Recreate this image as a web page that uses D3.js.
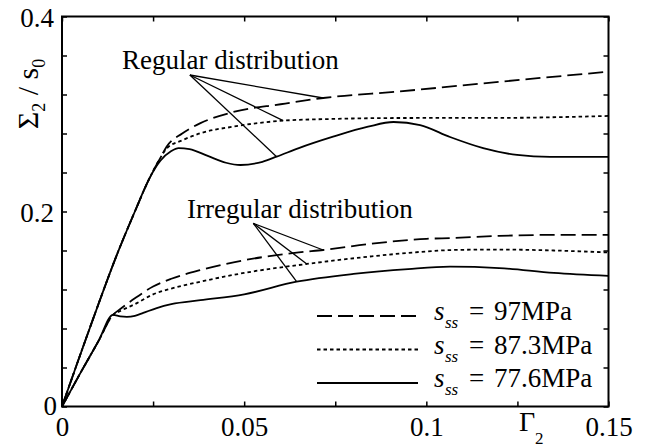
<!DOCTYPE html>
<html>
<head>
<meta charset="utf-8">
<script src="https://cdn.jsdelivr.net/npm/d3@7/dist/d3.min.js"></script>
<style>
	body { margin: 0; background: #fff; }
	text { font-family: "Liberation Serif", Tinos, "Times New Roman", Times, "DejaVu Serif", serif; fill: #000; }
</style>
</head>
<body>
<script>
//tick values
var xTicks = [0, 0.025, 0.05, 0.075, 0.1, 0.125, 0.15];
var xLabels = [0, 0.05, 0.1, 0.15];
var yTicks = [0, 0.04, 0.08, 0.12, 0.16, 0.2, 0.24, 0.28, 0.32, 0.36, 0.4];
var yLabels = [0, 0.2, 0.4];

//regular distribution [gamma, sigma/s0]
var regular97 = [[0,0],[0.005,0.053],[0.01,0.105],[0.015,0.155],[0.02,0.2],[0.024,0.234],[0.027,0.255],[0.0287,0.2665],[0.033,0.28],[0.038,0.2906],[0.047,0.302],[0.06,0.31],[0.0717,0.3164],[0.0928,0.3232],[0.12,0.333],[0.15,0.3434]];
var regular873 = [[0,0],[0.005,0.053],[0.01,0.105],[0.015,0.155],[0.02,0.2],[0.024,0.234],[0.027,0.255],[0.0287,0.2645],[0.033,0.273],[0.038,0.2803],[0.047,0.287],[0.0608,0.2932],[0.075,0.295],[0.0928,0.2959],[0.12,0.296],[0.15,0.298]];
var regular776 = [[0,0],[0.005,0.053],[0.01,0.105],[0.015,0.155],[0.02,0.2],[0.024,0.234],[0.027,0.252],[0.03,0.262],[0.032,0.265],[0.035,0.264],[0.04,0.257],[0.045,0.25],[0.049,0.2477],[0.055,0.251],[0.0589,0.2562],[0.065,0.265],[0.0744,0.2767],[0.084,0.287],[0.091,0.2918],[0.0983,0.2887],[0.1065,0.2764],[0.1156,0.265],[0.1249,0.258],[0.134,0.256],[0.15,0.256]];

//irregular distribution
var irregular97 = [[0,0],[0.005,0.034],[0.01,0.067],[0.014,0.094],[0.016,0.1],[0.02,0.111],[0.025,0.123],[0.03,0.131],[0.038,0.14],[0.05,0.15],[0.065,0.158],[0.0717,0.1605],[0.085,0.167],[0.1,0.172],[0.107,0.1728],[0.12,0.175],[0.135,0.176],[0.15,0.176]];
var irregular873 = [[0,0],[0.005,0.034],[0.01,0.067],[0.014,0.094],[0.016,0.098],[0.02,0.105],[0.025,0.115],[0.03,0.121],[0.038,0.128],[0.05,0.137],[0.0672,0.1462],[0.085,0.154],[0.1,0.159],[0.107,0.1605],[0.12,0.161],[0.135,0.16],[0.15,0.158]];
var irregular776 = [[0,0],[0.005,0.034],[0.01,0.067],[0.014,0.094],[0.016,0.0925],[0.0178,0.092],[0.02,0.093],[0.0223,0.096],[0.026,0.101],[0.03,0.105],[0.038,0.109],[0.05,0.115],[0.0644,0.128],[0.08,0.136],[0.095,0.141],[0.1065,0.1434],[0.12,0.142],[0.135,0.137],[0.15,0.134]];

//annotation pointers: apex and targets
var regularApex = [0.0351, 0.340];
var regularTargets = [[0.0717,0.3164],[0.0607,0.2932],[0.0589,0.2562]];
var irregularApex = [0.0525, 0.1879];
var irregularTargets = [[0.0717,0.1605],[0.0672,0.1462],[0.0644,0.128]];

var legendNames = ['97MPa', '87.3MPa', '77.6MPa'];
var dashes = ['15,6', '3.5,3', null];

var font = '"Liberation Serif", Tinos, "Times New Roman", Times, "DejaVu Serif", serif';
var w = 646, h = 448;
var margin = {left: 62, top: 16.5, right: 37.5, bottom: 41.5};

var svg = d3.select('body').append('svg')
			.attr('width', w)
			.attr('height', h)
			.attr('font-family', font);

var x = d3.scaleLinear().domain([0, 0.15]).range([margin.left, w - margin.right]);
var y = d3.scaleLinear().domain([0, 0.4]).range([h - margin.bottom, margin.top]);

var line = d3.line()
			 .x(function(d){ return x(d[0]); })
			 .y(function(d){ return y(d[1]); })
			 .curve(d3.curveMonotoneX);

var series = [regular97, regular873, regular776, irregular97, irregular873, irregular776];
series.forEach(function(s, i){
	svg.append('path')
	   .attr('d', line(s))
	   .attr('fill', 'none')
	   .attr('stroke', '#000')
	   .attr('stroke-width', 1.8)
	   .attr('stroke-dasharray', dashes[i % 3]);
});

//pointers
function pointers(apex, targets){
	targets.forEach(function(t){
		svg.append('line')
		   .attr('x1', x(apex[0])).attr('y1', y(apex[1]))
		   .attr('x2', x(t[0])).attr('y2', y(t[1]))
		   .attr('stroke', '#000')
		   .attr('stroke-width', 1.3);
	});
}
pointers(regularApex, regularTargets);
pointers(irregularApex, irregularTargets);

svg.append('text').attr('x', 122).attr('y', 69).attr('font-size', 27).text('Regular distribution');
svg.append('text').attr('x', 187).attr('y', 218).attr('font-size', 27).text('Irregular distribution');

//axes
function fmt(d){
	return d == 0 ? '0' : String(d);
}

var axB = svg.append('g').attr('transform', 'translate(0,' + y(0) + ')')
			 .call(d3.axisBottom(x).tickValues(xTicks).tickSizeInner(-5).tickSizeOuter(0).tickPadding(10)
			 .tickFormat(function(d){ return xLabels.indexOf(d) > -1 ? fmt(d) : ''; }));
var axT = svg.append('g').attr('transform', 'translate(0,' + y(0.4) + ')')
			 .call(d3.axisTop(x).tickValues(xTicks).tickSizeInner(-5).tickSizeOuter(0).tickFormat(''));
var axL = svg.append('g').attr('transform', 'translate(' + x(0) + ',0)')
			 .call(d3.axisLeft(y).tickValues(yTicks).tickSizeInner(-5).tickSizeOuter(0).tickPadding(8)
			 .tickFormat(function(d){ return yLabels.indexOf(d) > -1 ? fmt(d) : ''; }));
var axR = svg.append('g').attr('transform', 'translate(' + x(0.15) + ',0)')
			 .call(d3.axisRight(y).tickValues(yTicks).tickSizeInner(-5).tickSizeOuter(0).tickFormat(''));

[axB, axT, axL, axR].forEach(function(a){
	a.attr('font-family', font).attr('font-size', 27);
	a.selectAll('.domain').remove();
	a.selectAll('line').attr('stroke', '#000').attr('stroke-width', 1.5);
	a.selectAll('text').attr('fill', '#000');
});
axL.selectAll('text').attr('dy', '0.37em');
axL.selectAll('text').filter(function(d){ return d == 0; }).attr('dx', 3).attr('dy', '0.3em');

svg.append('rect')
   .attr('x', x(0)).attr('y', y(0.4))
   .attr('width', x(0.15) - x(0)).attr('height', y(0) - y(0.4))
   .attr('fill', 'none').attr('stroke', '#000').attr('stroke-width', 2);

//axis titles
var yt = svg.append('text')
			.attr('transform', 'translate(38,94) rotate(-90)')
			.attr('text-anchor', 'middle')
			.attr('font-size', 30);
yt.append('tspan').text('Σ');
yt.append('tspan').attr('font-size', 18).attr('dy', 7).text('2');
yt.append('tspan').attr('dy', -7).text(' / s');
yt.append('tspan').attr('font-size', 18).attr('dy', 7).text('0');

svg.append('text').attr('x', 519).attr('y', 431).attr('font-size', 28).text('Γ');
svg.append('text').attr('x', 535).attr('y', 444).attr('font-size', 17).text('2');

//legend
legendNames.forEach(function(n, i){
	var by = 320 + i * 33.5;
	svg.append('line')
	   .attr('x1', 317).attr('x2', 418)
	   .attr('y1', by - 4).attr('y2', by - 4)
	   .attr('stroke', '#000').attr('stroke-width', 1.8)
	   .attr('stroke-dasharray', dashes[i]);
	svg.append('text').attr('x', 434).attr('y', by).attr('font-size', 27).attr('font-style', 'italic').text('s');
	svg.append('text').attr('x', 445).attr('y', by + 8).attr('font-size', 17).attr('font-style', 'italic').text('ss');
	svg.append('text').attr('x', 469).attr('y', by).attr('font-size', 27).text('=');
	svg.append('text').attr('x', 494).attr('y', by).attr('font-size', 27).text(n);
});
</script>
</body>
</html>
